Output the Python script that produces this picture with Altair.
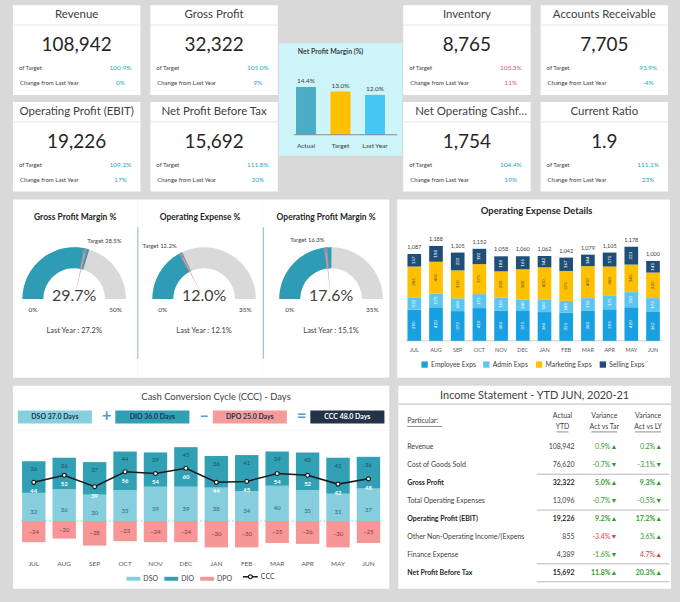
import math
import altair as alt
import pandas as pd

FONT = "Lato"
BG = "#d9d9d9"
TXT = "#404040"
DARK = "#262626"
GOOD = "#2aa7c7"
BAD = "#e05a5a"
TEAL = "#2e9cb5"
GREEN = "#2f9a2f"
RED = "#e03c3c"

# ---------------- KPI cards ----------------
kpi_names = ["Revenue", "Gross Profit", "Operating Profit (EBIT)", "Net Profit Before Tax",
             "Inventory", "Accounts Receivable", "Net Operating Cashflow (OCF)", "Current Ratio"]
kpi_values = [108942, 32322, 19226, 15692, 8765, 7705, 1754, 1.9]
kpi_of_target = [100.9, 105.0, 109.2, 111.8, 105.3, 93.9, 104.4, 111.1]
kpi_change = [0, 9, 17, 20, 11, -4, 19, 23]
kpi_alert = [False, False, False, False, True, False, False, False]

# ---------------- Net profit margin ----------------
npm_labels = ["Actual", "Target", "Last Year"]
npm_values = [14.4, 13.0, 12.0]
npm_colors = ["#4bacc6", "#ffc000", "#45c8f3"]

# ---------------- Gauges ----------------
g_titles = ["Gross Profit Margin %", "Operating Expense %", "Operating Profit Margin %"]
g_values = [29.7, 12.0, 17.6]
g_targets = [28.5, 12.2, 16.3]
g_max = [50, 35, 35]
g_ly = [27.2, 12.1, 15.1]

# ---------------- Operating expense details ----------------
months = ["JUL", "AUG", "SEP", "OCT", "NOV", "DEC", "JAN", "FEB", "MAR", "APR", "MAY", "JUN"]
op_series = ["Employee Exps", "Admin Exps", "Marketing Exps", "Selling Exps"]
op_colors = ["#18a0e0", "#5cc6ef", "#ffc000", "#1f4e79"]
emp = [390, 420, 372, 410, 380, 375, 360, 355, 380, 395, 420, 362]
adm = [155, 170, 160, 175, 160, 140, 160, 145, 155, 175, 190, 173]
mkt = [385, 400, 350, 375, 330, 380, 400, 375, 400, 360, 345, 320]
sel = [157, 198, 223, 192, 188, 165, 142, 167, 144, 175, 223, 145]

# ---------------- Cash conversion cycle ----------------
ccc_series = ["DSO", "DIO", "DPO"]
ccc_colors = ["#86cedd", "#31a0b5", "#f79696"]
dso = [32, 36, 30, 35, 39, 39, 38, 34, 40, 35, 31, 37]
dio = [36, 36, 37, 44, 39, 45, 36, 41, 39, 43, 41, 36]
dpo = [-24, -20, -28, -23, -24, -24, -30, -30, -25, -26, -30, -25]
ccc = [44, 52, 39, 56, 54, 60, 44, 45, 54, 52, 42, 48]
box_names = ["DSO", "DIO", "DPO", "CCC"]
box_values = [37.0, 36.0, 25.0, 48.0]
box_colors = ["#86d0de", "#31a0b5", "#f79a9a", "#243347"]
box_ops = ["+", "\u2013", "="]

# ---------------- Income statement ----------------
is_items = ["Revenue", "Cost of Goods Sold", "Gross Profit", "Total Operating Expenses",
            "Operating Profit (EBIT)", "Other Non-Operating Income/(Expens", "Finance Expense",
            "Net Profit Before Tax"]
is_actual = [108942, 76620, 32322, 13096, 19226, 855, 4389, 15692]
is_var_tar = [0.9, -0.7, 5.0, -0.7, 9.2, -3.4, -1.6, 11.8]
is_var_ly = [0.2, -3.1, 9.3, -0.5, 17.2, 3.6, 4.7, 20.3]
is_tar_good = [True, True, True, True, True, False, True, True]
is_ly_good = [True, True, True, True, True, True, False, True]
is_bold = [False, False, True, False, True, False, False, True]


def indep(c):
    return c.resolve_scale(color="independent", theta="independent").resolve_legend(color="independent")


def hc(*charts, spacing=0):
    return indep(alt.hconcat(*charts, spacing=spacing))


def vc(*charts, spacing=0):
    return indep(alt.vconcat(*charts, spacing=spacing))


def one():
    return pd.DataFrame({"zero": [0]})


def panel_bg(w, h, color="white"):
    return alt.Chart(one()).mark_rect(color=color).encode(
        x=alt.value(0), x2=alt.value(w), y=alt.value(0), y2=alt.value(h))


def txt(text, x, y, **kw):
    return alt.Chart(pd.DataFrame({"t": [text]})).mark_text(**kw).encode(
        x=alt.value(x), y=alt.value(y), text="t:N")


def hline(x1, x2, y, **kw):
    return alt.Chart(one()).mark_rule(**kw).encode(
        x=alt.value(x1), x2=alt.value(x2), y=alt.value(y))


def vline(x, y1, y2, **kw):
    return alt.Chart(one()).mark_rule(**kw).encode(
        x=alt.value(x), y=alt.value(y1), y2=alt.value(y2))


# ---------------- card builder ----------------
def card(i, w, h=90):
    v = kpi_values[i]
    vt = f"{v:,.0f}" if v >= 100 else f"{v:.1f}"
    df = pd.DataFrame({"title": [kpi_names[i]], "value": [vt],
                       "tgt": [f"{kpi_of_target[i]:.1f}%"], "chg": [f"{kpi_change[i]}%"]})
    col = BAD if kpi_alert[i] else GOOD
    base = alt.Chart(df)
    long_title = len(kpi_names[i]) > 24
    if long_title:
        title = base.mark_text(fontSize=11.5, color=TXT, align="left", limit=w - 13, ellipsis="").encode(
            x=alt.value(12), y=alt.value(10), text="title:N")
    else:
        title = base.mark_text(fontSize=11.5, color=TXT).encode(
            x=alt.value(w / 2), y=alt.value(10), text="title:N")
    sep = base.mark_rule(color="#ebebeb", strokeWidth=1.2).encode(
        x=alt.value(0), x2=alt.value(w), y=alt.value(20))
    big = base.mark_text(fontSize=19, color=DARK).encode(
        x=alt.value(w / 2), y=alt.value(40), text="value:N")
    l1 = base.mark_text(fontSize=6, color=TXT, align="left").encode(
        x=alt.value(6), y=alt.value(63), text=alt.value("of Target"))
    l2 = base.mark_text(fontSize=6, color=TXT, align="left").encode(
        x=alt.value(7), y=alt.value(78), text=alt.value("Change from Last Year"))
    v1 = base.mark_text(fontSize=6.5, color=col).encode(
        x=alt.value(w - 20), y=alt.value(63), text="tgt:N")
    v2 = base.mark_text(fontSize=6.5, color=col).encode(
        x=alt.value(w - 20), y=alt.value(78), text="chg:N")
    return alt.layer(panel_bg(w, h), title, sep, big, l1, l2, v1, v2).properties(width=w, height=h)


left_block = vc(
    hc(card(0, 128), card(1, 128), spacing=8),
    hc(card(2, 128), card(3, 128), spacing=8),
    spacing=7)
right_block = vc(
    hc(card(4, 128), card(5, 128), spacing=8),
    hc(card(6, 128), card(7, 128), spacing=8),
    spacing=7)

# ---------------- NPM panel ----------------
NW = 124
npm_df = pd.DataFrame({"cat": npm_labels, "val": npm_values})
xs_npm = alt.X("cat:N", sort=npm_labels, axis=None,
               scale=alt.Scale(paddingInner=0.42, paddingOuter=0.5))
ys_npm = alt.Scale(domain=[-6.3, 27.6], nice=False, zero=False)
nb = alt.Chart(npm_df)
npm_bars = nb.mark_bar().encode(
    x=xs_npm, y=alt.Y("val:Q", scale=ys_npm, axis=None),
    color=alt.Color("cat:N", scale=alt.Scale(domain=npm_labels, range=npm_colors), legend=None))
npm_lbl = nb.transform_calculate(lbl="format(datum.val, '.1f') + '%'").mark_text(
    dy=-6, fontSize=6.5, color=TXT).encode(
    x=xs_npm, y=alt.Y("val:Q", scale=ys_npm, axis=None), text="lbl:N")
npm_axis = alt.Chart(one()).mark_rule(color="#8c8c8c").encode(
    x=alt.value(15), x2=alt.value(NW - 5), y=alt.Y("zero:Q", scale=ys_npm, axis=None))
npm_cats = nb.transform_calculate(zero="0").mark_text(dy=11, fontSize=6.5, color=TXT).encode(
    x=xs_npm, y=alt.Y("zero:Q", scale=ys_npm, axis=None), text="cat:N")
npm_title = txt("Net Profit Margin (%)", 52, 9, fontSize=7, fontWeight="bold", color=TXT)
npm = alt.layer(panel_bg(NW, 113, "#cdf4f8"), npm_bars, npm_lbl, npm_axis, npm_cats,
                npm_title).properties(width=NW, height=113)
spacer = alt.Chart(one()).mark_rule(opacity=0).encode(
    x=alt.value(10), x2=alt.value(20), y=alt.value(10)).properties(width=NW, height=30)
npm_col = vc(spacer, npm, spacing=8)

top = hc(left_block, npm_col, right_block, spacing=0)


# ---------------- Gauges ----------------
def polar(cx, cy, r, frac):
    ang = -math.pi / 2 + frac * math.pi
    return cx + r * math.sin(ang), cy - r * math.cos(ang)


def gauge(i, w, cx, sep):
    mx, v, t = g_max[i], g_values[i], g_targets[i]
    cy, R, r = 100, 52, 31
    th = alt.Scale(domain=[0, mx], range=[-math.pi / 2, math.pi / 2])

    def arc(a, b, color, ro, ri):
        df = pd.DataFrame({"a": [a], "b": [b]})
        return alt.Chart(df).mark_arc(color=color).encode(
            theta=alt.Theta("a:Q", scale=th, stack=False), theta2=alt.Theta2("b"),
            radius=alt.value(ro), radius2=alt.value(ri),
            x=alt.value(cx), y=alt.value(cy))

    tw = 0.012 * mx
    nw = 0.004 * mx
    layers = [
        panel_bg(w, 179),
        arc(0, mx, "#d9d9d9", R, r),
        arc(0, v, TEAL, R, r),
        arc(t - tw, t + tw, "#8593ad", R, r),
        arc(t - nw, t + nw, "#e99a9a", R - 5, 6),
    ]
    x0, y0 = polar(cx, cy, (R + r) / 2, 0)
    x1, y1 = polar(cx, cy, (R + r) / 2, 1)
    layers.append(txt("0%", x0, y0 + 11, fontSize=6.5, color=TXT))
    layers.append(txt(f"{mx}%", x1, y1 + 11, fontSize=6.5, color=TXT))
    tx, ty = polar(cx, cy, R + 8, t / mx)
    layers.append(txt(f"Target {t:.1f}%", tx, ty, fontSize=6, color=TXT,
                      align="left" if t / mx > 0.5 else "right"))
    layers.append(txt(f"{v:.1f}%", cx, cy - 3, fontSize=16, color=TXT))
    layers.append(txt(f"Last Year : {g_ly[i]:.1f}%", cx, 132, fontSize=7.5, color=TXT))
    layers.append(txt(g_titles[i], w / 2, 18, fontSize=8.5, fontWeight="bold", color=DARK))
    if sep:
        layers.append(vline(0.5, 28, 160, color="#8fb3d3", strokeWidth=1))
    return alt.layer(*layers).properties(width=w, height=179)


gauges = hc(gauge(0, 125, 61.5, False), gauge(1, 126, 67, True),
            gauge(2, 127, 68.5, True), spacing=0)

# ---------------- Operating expense details ----------------
op_rows = []
for mi, m in enumerate(months):
    for si, arr in enumerate([emp, adm, mkt, sel]):
        op_rows.append({"month": m, "series": op_series[si], "value": arr[mi], "ord": si})
op_df = pd.DataFrame(op_rows)
xm_op = alt.X("month:N", sort=months, axis=None,
              scale=alt.Scale(paddingInner=0.37, paddingOuter=0.47))
ys_op = alt.Scale(domain=[-461, 1770], nice=False, zero=False)
op_base = alt.Chart(op_df)
op_bars = op_base.mark_bar().encode(
    x=xm_op, y=alt.Y("value:Q", stack="zero", scale=ys_op, axis=None),
    color=alt.Color("series:N", scale=alt.Scale(domain=op_series, range=op_colors),
                    legend=alt.Legend(orient="none", legendX=24, legendY=162, direction="horizontal",
                                      title=None, symbolType="square", symbolSize=40,
                                      symbolStrokeWidth=0, labelFontSize=6.8, labelFont=FONT,
                                      labelColor=TXT, columnPadding=7, labelOffset=3)),
    order=alt.Order("ord:Q", sort="ascending"))
op_seg = op_base.transform_stack(
    stack="value", groupby=["month"], as_=["y0", "y1"],
    sort=[alt.SortField("ord", order="ascending")]).transform_calculate(
    mid="(datum.y0 + datum.y1) / 2").mark_text(angle=270, fontSize=4.5).encode(
    x=xm_op, y=alt.Y("mid:Q", scale=ys_op, axis=None), text="value:Q",
    color=alt.condition("datum.series === 'Marketing Exps'", alt.value("#4d4d4d"), alt.value("white")))
op_tot = op_base.transform_aggregate(total="sum(value)", groupby=["month"]).mark_text(
    dy=-7, fontSize=5.5, color=TXT).encode(
    x=xm_op, y=alt.Y("total:Q", scale=ys_op, axis=None), text=alt.Text("total:Q", format=","))
op_axis = alt.Chart(one()).mark_rule(color="#d0d0d0").encode(
    x=alt.value(8), x2=alt.value(266), y=alt.Y("zero:Q", scale=ys_op, axis=None))
op_months = alt.Chart(pd.DataFrame({"month": months})).mark_text(fontSize=5.5, color="#595959").encode(
    x=xm_op, y=alt.value(151), text="month:N")
op_title = txt("Operating Expense Details", 140, 12, fontSize=9.5, fontWeight="bold", color=DARK)
opex = alt.layer(panel_bg(274, 179), op_axis, op_bars, op_seg, op_tot, op_months,
                 op_title).properties(width=274, height=179)

middle = hc(gauges, opex, spacing=8)

# ---------------- CCC panel ----------------
box_df = pd.DataFrame({"box": box_names,
                       "lbl": [f"{n} {v:.1f} Days" for n, v in zip(box_names, box_values)]})
xb = alt.X("box:N", sort=box_names, axis=None, scale=alt.Scale(paddingInner=0.24, paddingOuter=0.05))
boxes = alt.Chart(box_df).mark_bar().encode(
    x=xb, y=alt.value(25), y2=alt.value(38),
    color=alt.Color("box:N", scale=alt.Scale(domain=box_names, range=box_colors), legend=None))
box_txt = alt.Chart(box_df).mark_text(fontSize=7, fontWeight="bold").encode(
    x=xb, y=alt.value(31.5), text="lbl:N",
    color=alt.condition("datum.box === 'CCC'", alt.value("white"), alt.value("#1f3552")))
op_sym = alt.Chart(pd.DataFrame({"box": box_names[1:], "op": box_ops})).mark_text(
    fontSize=17, fontWeight="bold", color="#5b9bd5", dx=-46).encode(
    x=xb, y=alt.value(31), text="op:N")
ccc_title = txt("Cash Conversion Cycle (CCC) - Days", 204, 11, fontSize=9.5, color=TXT)
ccc_top = alt.layer(panel_bg(378, 45), boxes, box_txt, op_sym, ccc_title).properties(width=378, height=45)

cc_rows = []
for mi, m in enumerate(months):
    for si, arr in enumerate([dso, dio, dpo]):
        cc_rows.append({"month": m, "series": ccc_series[si], "value": arr[mi], "ord": si})
cc_df = pd.DataFrame(cc_rows)
cl_df = pd.DataFrame({"month": months, "ccc": ccc})
xm_cc = alt.X("month:N", sort=months, axis=None,
              scale=alt.Scale(paddingInner=0.23, paddingOuter=0.3))
ys_cc = alt.Scale(domain=[-77, 103], nice=False, zero=False)

cc_legend = alt.Legend(
    orient="none", legendX=114, legendY=142, direction="horizontal", title=None,
    symbolType="M-1,-0.28H1V0.28H-1Z", symbolSize=196, symbolStrokeWidth=0,
    labelFontSize=7, labelFont=FONT, labelColor=TXT, columnPadding=6, labelOffset=3)

cc_base = alt.Chart(cc_df)
cc_zero = alt.Chart(one()).mark_rule(color="#c4c4c4", strokeDash=[2, 2]).encode(
    x=alt.value(8), x2=alt.value(370), y=alt.Y("zero:Q", scale=ys_cc, axis=None))
cc_bars = cc_base.mark_bar().encode(
    x=xm_cc, y=alt.Y("value:Q", stack="zero", scale=ys_cc, axis=None),
    color=alt.Color("series:N", scale=alt.Scale(domain=ccc_series, range=ccc_colors), legend=cc_legend),
    order=alt.Order("ord:Q", sort="ascending"))
cc_stack = cc_base.transform_stack(
    stack="value", groupby=["month"], as_=["y0", "y1"],
    sort=[alt.SortField("ord", order="ascending")]).transform_calculate(
    mid="(datum.y0 + datum.y1) / 2")
cc_dso_lbl = cc_stack.transform_filter("datum.series === 'DSO'").mark_text(
    fontSize=6, color="#3c6470", dy=5).encode(
    x=xm_cc, y=alt.Y("mid:Q", scale=ys_cc, axis=None), text="value:Q")
cc_dio_lbl = cc_stack.transform_filter("datum.series === 'DIO'").mark_text(
    fontSize=6, color="#1d4f5c", dy=8).encode(
    x=xm_cc, y=alt.Y("y1:Q", scale=ys_cc, axis=None), text="value:Q")
cc_dpo_lbl = cc_stack.transform_filter("datum.series === 'DPO'").mark_text(
    fontSize=6, color="#7f3f3f").encode(
    x=xm_cc, y=alt.Y("mid:Q", scale=ys_cc, axis=None), text="value:Q")
cc_line = alt.Chart(cl_df).mark_line(color="#1a1a1a", strokeWidth=1.6).encode(
    x=xm_cc, y=alt.Y("ccc:Q", scale=ys_cc, axis=None))
cc_pts = alt.Chart(cl_df).mark_circle(color="white", stroke="#1a1a1a", strokeWidth=1.2,
                                      size=16, opacity=1).encode(
    x=xm_cc, y=alt.Y("ccc:Q", scale=ys_cc, axis=None))
cc_pt_lbl = alt.Chart(cl_df).mark_text(fontSize=6, fontWeight="bold", color="white", dy=9).encode(
    x=xm_cc, y=alt.Y("ccc:Q", scale=ys_cc, axis=None), text="ccc:Q")
cc_months = alt.Chart(pd.DataFrame({"month": months})).mark_text(fontSize=6.5, color="#595959").encode(
    x=xm_cc, y=alt.value(134), text="month:N")
leg_line = hline(231, 246, 147, color="#1a1a1a", strokeWidth=1.5)
leg_pt = alt.Chart(one()).mark_circle(
    color="white", stroke="#1a1a1a", strokeWidth=1.2, size=16, opacity=1).encode(
    x=alt.value(238.5), y=alt.value(147))
leg_txt = txt("CCC", 249, 147, fontSize=7, color=TXT, align="left")
ccc_main = alt.layer(panel_bg(378, 159), cc_zero, cc_bars, cc_dso_lbl, cc_dio_lbl, cc_dpo_lbl,
                     cc_line, cc_pts, cc_pt_lbl, cc_months, leg_line, leg_pt, leg_txt).properties(
    width=378, height=159)
ccc_panel = vc(ccc_top, ccc_main, spacing=0)


# ---------------- Income statement ----------------
def arrow_lbl(v):
    return f"{v:.1f}%" + ("\u25b2" if v >= 0 else "\u25bc")


is_df = pd.DataFrame({
    "item": is_items, "actual": is_actual, "row": list(range(len(is_items))),
    "tar": [arrow_lbl(v) for v in is_var_tar], "ly": [arrow_lbl(v) for v in is_var_ly],
    "tar_good": is_tar_good, "ly_good": is_ly_good, "bold": is_bold})
ys_is = alt.Scale(domain=[-62 / 18, (204 - 62) / 18], reverse=True, nice=False, zero=False)
y_is = alt.Y("row:Q", scale=ys_is, axis=None)
ib = alt.Chart(is_df)
is_layers = []
for flt, weight, colr in [("!datum.bold", "normal", TXT), ("datum.bold", "bold", DARK)]:
    sub = ib.transform_filter(flt)
    is_layers.append(sub.mark_text(align="left", fontSize=7, fontWeight=weight, color=colr).encode(
        x=alt.value(9), y=y_is, text="item:N"))
    is_layers.append(sub.mark_text(align="right", fontSize=7, fontWeight=weight, color=colr).encode(
        x=alt.value(177), y=y_is, text=alt.Text("actual:Q", format=",")))
    is_layers.append(sub.mark_text(align="right", fontSize=7, fontWeight=weight).encode(
        x=alt.value(220), y=y_is, text="tar:N",
        color=alt.condition("datum.tar_good", alt.value(GREEN), alt.value(RED))))
    is_layers.append(sub.mark_text(align="right", fontSize=7, fontWeight=weight).encode(
        x=alt.value(265), y=y_is, text="ly:N",
        color=alt.condition("datum.ly_good", alt.value(GREEN), alt.value(RED))))
sep_pos = [i - 0.5 for i, b in enumerate(is_bold) if b and i > 0] + [len(is_items) - 0.5]
is_sep = alt.Chart(pd.DataFrame({"pos": sep_pos})).mark_rule(color="#a6a6a6", strokeWidth=0.8).encode(
    x=alt.value(139), x2=alt.value(272), y=alt.Y("pos:Q", scale=ys_is, axis=None))
hdr = [
    txt("Income Statement - YTD JUN, 2020-21", 137, 10, fontSize=11, color=TXT),
    hline(0, 274, 18.5, color="#c8c8c8", strokeWidth=1.2),
    txt("Particular:", 9, 36, fontSize=7, color=TXT, align="left"),
    hline(9, 44, 41, color=TXT, strokeWidth=0.6),
    txt("Actual", 165, 31, fontSize=7, color=TXT),
    txt("YTD", 165, 42, fontSize=7, color=TXT),
    hline(159, 171, 46.5, color=TXT, strokeWidth=0.6),
    txt("Variance", 207, 31, fontSize=7, color=TXT),
    txt("Act vs Tar", 207, 42, fontSize=7, color=TXT),
    hline(194, 220, 46.5, color=TXT, strokeWidth=0.6),
    txt("Variance", 251, 31, fontSize=7, color=TXT),
    txt("Act vs LY", 251, 42, fontSize=7, color=TXT),
    hline(238, 264, 46.5, color=TXT, strokeWidth=0.6),
]
income = alt.layer(panel_bg(274, 204), *hdr, is_sep, *is_layers).properties(width=274, height=204)

bottom = hc(ccc_panel, income, spacing=8)

chart = vc(top, middle, bottom, spacing=8).properties(
    background=BG, padding={"left": 12, "top": 4, "right": 8, "bottom": 12}
).configure(font=FONT).configure_view(stroke=None)

chart.save("out.html", embed_options={"renderer": "svg", "actions": False})
